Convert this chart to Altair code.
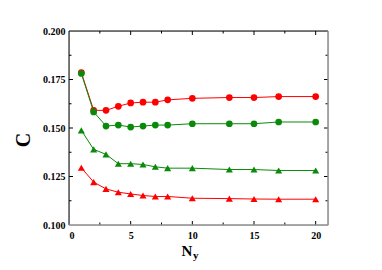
import altair as alt
import pandas as pd

ny = [1, 2, 3, 4, 5, 6, 7, 8, 10, 13, 15, 17, 20]
red_circ = [0.1786, 0.1591, 0.1591, 0.1612, 0.1629, 0.1633, 0.1633, 0.1645, 0.1653, 0.1657, 0.1657, 0.1662, 0.1662]
green_circ = [0.1781, 0.1583, 0.1510, 0.1515, 0.1505, 0.1510, 0.1515, 0.1515, 0.1522, 0.1522, 0.1522, 0.1531, 0.1531]
green_tri = [0.1488, 0.1390, 0.1364, 0.1316, 0.1316, 0.1312, 0.1300, 0.1293, 0.1293, 0.1286, 0.1286, 0.1281, 0.1281]
red_tri = [0.1295, 0.1221, 0.1186, 0.1169, 0.1160, 0.1152, 0.1147, 0.1147, 0.1138, 0.1136, 0.1134, 0.1133, 0.1133]

x_major = [0, 5, 10, 15, 20]
x_minor = [2.5, 7.5, 12.5, 17.5]
y_major = [0.100, 0.125, 0.150, 0.175, 0.200]
y_minor = [0.1125, 0.1375, 0.1625, 0.1875]

W, H = 259, 194
RED = "#ff0000"
GREEN = "#0a8a0a"
FONT = "Liberation Serif"

xs = alt.Scale(domain=[0, 21], nice=False, zero=False)
ys = alt.Scale(domain=[0.1, 0.2], nice=False, zero=False)

def series(vals, color, shape, size):
    df = pd.DataFrame({"x": ny, "y": vals})
    base = alt.Chart(df).encode(
        x=alt.X("x:Q", scale=xs, axis=alt.Axis(values=x_major, format="d", ticks=False, domain=False, grid=False,
                                               labelFont=FONT, labelFontWeight="bold", labelFontSize=10,
                                               labelPadding=5, labelColor="black", title=None)),
        y=alt.Y("y:Q", scale=ys, axis=alt.Axis(values=y_major, format=".3f", ticks=False, domain=False, grid=False,
                                               labelFont=FONT, labelFontWeight="bold", labelFontSize=10,
                                               labelPadding=4, labelColor="black", title=None)),
    )
    line = base.mark_line(color=color, strokeWidth=1)
    pts = base.mark_point(shape=shape, filled=True, color=color, size=size, opacity=1)
    return [line, pts]

layers = []
layers += series(red_tri, RED, "triangle-up", 50)
layers += series(green_tri, GREEN, "triangle-up", 50)
layers += series(red_circ, RED, "circle", 45)
layers += series(green_circ, GREEN, "circle", 45)

# ticks (inward)
def xticks(vals, length):
    df = pd.DataFrame({"t": vals})
    b = alt.Chart(df).mark_rule(color="black", strokeWidth=1)
    return [
        b.encode(x=alt.X("t:Q", scale=xs), y=alt.value(H), y2=alt.value(H - length)),
        b.encode(x=alt.X("t:Q", scale=xs), y=alt.value(0), y2=alt.value(length)),
    ]

def yticks(vals, length):
    df = pd.DataFrame({"t": vals})
    b = alt.Chart(df).mark_rule(color="black", strokeWidth=1)
    return [
        b.encode(y=alt.Y("t:Q", scale=ys), x=alt.value(0), x2=alt.value(length)),
        b.encode(y=alt.Y("t:Q", scale=ys), x=alt.value(W), x2=alt.value(W - length)),
    ]

ticks = xticks(x_major[1:], 4) + xticks(x_minor, 2.5) + yticks(y_major[1:-1], 4) + yticks(y_minor, 2.5)

one = pd.DataFrame({"a": [0]})
frame = [
    alt.Chart(one).mark_rule(color="black", strokeWidth=1).encode(x=alt.value(0), x2=alt.value(W), y=alt.value(0)),
    alt.Chart(one).mark_rule(color="black", strokeWidth=1).encode(x=alt.value(0), y=alt.value(0), y2=alt.value(H)),
    alt.Chart(one).mark_rule(color="#8c8c8c", strokeWidth=1.5).encode(x=alt.value(W), y=alt.value(0), y2=alt.value(H)),
    alt.Chart(one).mark_rule(color="#8c8c8c", strokeWidth=1.5).encode(x=alt.value(0), x2=alt.value(W), y=alt.value(H)),
]

titles = [
    alt.Chart(one).mark_text(text="N", font=FONT, fontWeight="bold", fontSize=15, align="center", baseline="alphabetic", color="black")
        .encode(x=alt.value(118), y=alt.value(225)),
    alt.Chart(one).mark_text(text="y", font=FONT, fontWeight="bold", fontSize=11, align="left", baseline="alphabetic", color="black")
        .encode(x=alt.value(124), y=alt.value(228)),
    alt.Chart(one).mark_text(text="C", font=FONT, fontWeight="bold", fontSize=20, align="center", baseline="middle", angle=270, color="black")
        .encode(x=alt.value(-45), y=alt.value(109)),
]

chart = alt.layer(*(ticks + layers + frame + titles)).properties(
    width=W, height=H,
    autosize=alt.AutoSizeParams(type="none"),
    padding={"left": 61, "top": 23, "right": 40, "bottom": 40},
).configure_view(stroke=None).configure(background="white")

chart.save("out.html", embed_options={"renderer": "svg", "actions": False})
